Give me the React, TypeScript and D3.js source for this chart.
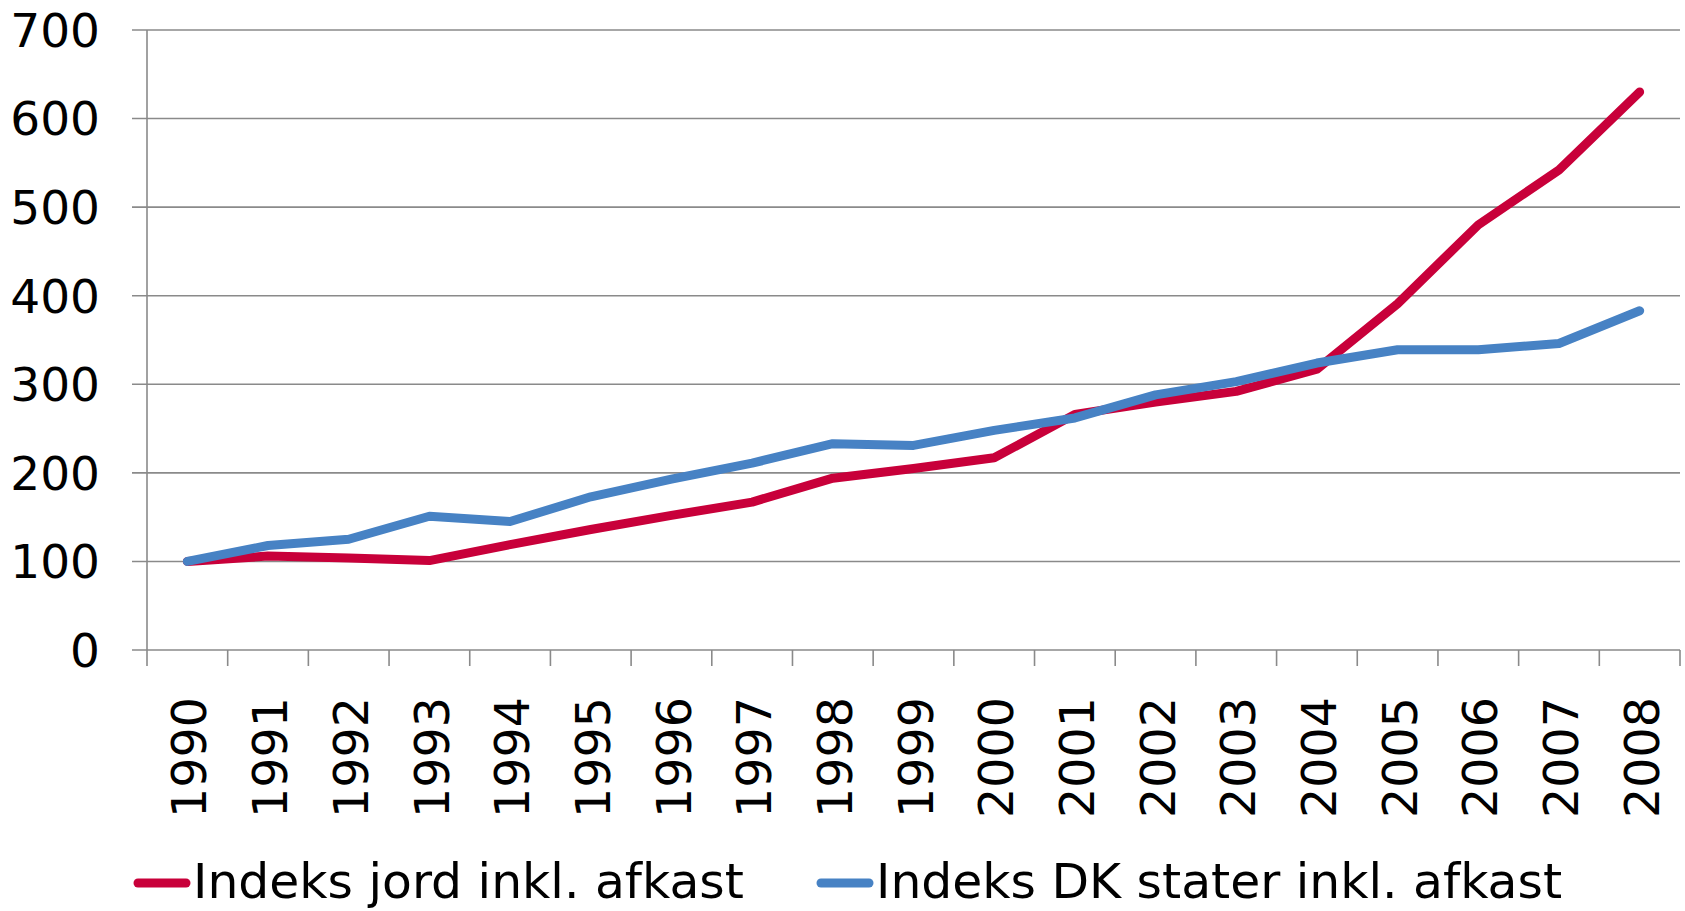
import React, { useEffect, useRef } from 'react';
import * as d3 from 'd3';

const years = ['1990', '1991', '1992', '1993', '1994', '1995', '1996', '1997', '1998', '1999',
  '2000', '2001', '2002', '2003', '2004', '2005', '2006', '2007', '2008'];
const jordValues = [100, 106, 104, 101, 119, 136, 152, 167, 194, 205, 217, 266, 280, 292, 317, 391, 480, 542, 630];
const dkStaterValues = [100, 118, 125, 151, 145, 173, 193, 211, 233, 231, 248, 262, 288, 303, 324, 339, 339, 346, 383];
const yTicks = [0, 100, 200, 300, 400, 500, 600, 700];
const seriesNames = ['Indeks jord inkl. afkast', 'Indeks DK stater inkl. afkast'];
const seriesColors = ['#c8003a', '#4782c4'];

export default function App() {
  const svgRef = useRef<SVGSVGElement>(null);

  useEffect(() => {
    const svg = d3.select(svgRef.current);
    svg.selectAll('*').remove();
    const font = 'DejaVu Sans, Verdana, sans-serif';
    const left = 147;
    const right = 1680;
    const top = 30;
    const bottom = 650;

    const x = d3.scaleBand().domain(years).range([left, right]);
    const y = d3.scaleLinear().domain([0, 700]).range([bottom, top]);

    // gridlines + left ticks
    svg.append('g')
      .selectAll('line')
      .data(yTicks)
      .enter()
      .append('line')
      .attr('x1', left - 15)
      .attr('x2', right)
      .attr('y1', (d) => y(d))
      .attr('y2', (d) => y(d))
      .attr('stroke', '#8a8a8a')
      .attr('stroke-width', 1.6);

    // y axis line
    svg.append('line')
      .attr('x1', left).attr('x2', left)
      .attr('y1', top).attr('y2', bottom + 16)
      .attr('stroke', '#8a8a8a').attr('stroke-width', 1.6);

    // x ticks at band edges
    const edges = years.map((d) => x(d) as number).concat([right]);
    svg.append('g')
      .selectAll('line')
      .data(edges.slice(1))
      .enter()
      .append('line')
      .attr('x1', (d) => d).attr('x2', (d) => d)
      .attr('y1', bottom).attr('y2', bottom + 16)
      .attr('stroke', '#8a8a8a').attr('stroke-width', 1.6);

    // y labels
    svg.append('g')
      .selectAll('text')
      .data(yTicks)
      .enter()
      .append('text')
      .attr('x', 100)
      .attr('y', (d) => y(d))
      .attr('dy', '0.36em')
      .attr('text-anchor', 'end')
      .attr('font-family', font)
      .attr('font-size', 47)
      .attr('fill', '#000')
      .text((d) => d);

    // x labels, rotated
    svg.append('g')
      .selectAll('text')
      .data(years)
      .enter()
      .append('text')
      .attr('transform', (d) => `translate(${(x(d) as number) + x.bandwidth() / 2 + 2},697) rotate(-90)`)
      .attr('dy', '0.36em')
      .attr('text-anchor', 'end')
      .attr('font-family', font)
      .attr('font-size', 47.5)
      .attr('fill', '#000')
      .text((d) => d);

    // lines
    const line = d3.line<number>()
      .x((_, i) => (x(years[i]) as number) + x.bandwidth() / 2)
      .y((d) => y(d));

    [jordValues, dkStaterValues].forEach((vals, i) => {
      svg.append('path')
        .attr('d', line(vals))
        .attr('fill', 'none')
        .attr('stroke', seriesColors[i])
        .attr('stroke-width', 9)
        .attr('stroke-linejoin', 'round')
        .attr('stroke-linecap', 'round');
    });

    // legend
    const legendX = [134, 817];
    seriesNames.forEach((name, i) => {
      svg.append('line')
        .attr('x1', legendX[i] + 4).attr('x2', legendX[i] + 52)
        .attr('y1', 883).attr('y2', 883)
        .attr('stroke', seriesColors[i])
        .attr('stroke-width', 9)
        .attr('stroke-linecap', 'round');
      svg.append('text')
        .attr('x', legendX[i] + 59)
        .attr('y', 898)
        .attr('font-family', font)
        .attr('font-size', 48.8)
        .attr('fill', '#000')
        .text(name);
    });
  }, []);

  return (
    <svg
      ref={svgRef}
      width="1685"
      height="911"
      style={{ position: 'absolute', left: 0, top: 0, background: '#fff' }}
    ></svg>
  );
}
